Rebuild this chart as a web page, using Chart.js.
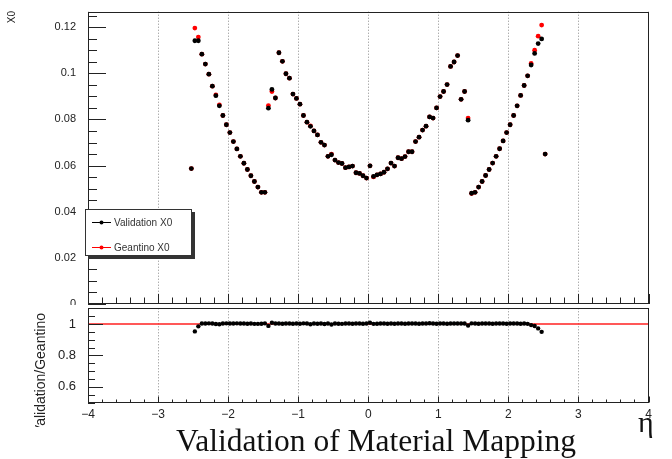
<!DOCTYPE html>
<html>
<head>
<meta charset="utf-8">
<script src="https://cdn.jsdelivr.net/npm/chart.js@4.4.1/dist/chart.umd.min.js"></script>
<style>
  body { margin: 0; background: #fff; width: 672px; height: 459px; position: relative; overflow: hidden; }
  canvas { position: absolute; left: 0; }
  #topPad { top: 0; }
  #ratioPad { top: 290px; }
  .caption { position: absolute; font-family: "Liberation Serif", "Times New Roman", serif; color: #111; line-height: 1; white-space: nowrap; }
  #title { left: 0; width: 752px; text-align: center; top: 425px; font-size: 31.5px; }
  #etaLabel { left: 638px; top: 407px; font-size: 30px; }
</style>
</head>
<body>
<canvas id="topPad" width="672" height="308"></canvas>
<canvas id="ratioPad" width="672" height="140"></canvas>
<div class="caption" id="etaLabel">η</div>
<div class="caption" id="title">Validation of Material Mapping</div>
<script>
// eta bin centres
const eta = [
  -2.525, -2.475, -2.425, -2.375, -2.325, -2.275, -2.225, -2.175, -2.125, -2.075,
  -2.025, -1.975, -1.925, -1.875, -1.825, -1.775, -1.725, -1.675, -1.625, -1.575,
  -1.525, -1.475, -1.425, -1.375, -1.325, -1.275, -1.225, -1.175, -1.125, -1.075,
  -1.025, -0.975, -0.925, -0.875, -0.825, -0.775, -0.725, -0.675, -0.625, -0.575,
  -0.525, -0.475, -0.425, -0.375, -0.325, -0.275, -0.225, -0.175, -0.125, -0.075,
  -0.025,
  0.025, 0.075, 0.125, 0.175, 0.225, 0.275, 0.325, 0.375, 0.425, 0.475,
  0.525, 0.575, 0.625, 0.675, 0.725, 0.775, 0.825, 0.875, 0.925, 0.975,
  1.025, 1.075, 1.125, 1.175, 1.225, 1.275, 1.325, 1.375, 1.425, 1.475,
  1.525, 1.575, 1.625, 1.675, 1.725, 1.775, 1.825, 1.875, 1.925, 1.975,
  2.025, 2.075, 2.125, 2.175, 2.225, 2.275, 2.325, 2.375, 2.425, 2.475,
  2.525
];

const validationX0 = [
  0.0587, 0.1141, 0.1141, 0.1083, 0.1040, 0.0996, 0.0944, 0.0903, 0.0859, 0.0817,
  0.0777, 0.0743, 0.0704, 0.0672, 0.0640, 0.0610, 0.0583, 0.0556, 0.0531, 0.0507,
  0.0484, 0.0484, 0.0849, 0.0930, 0.0893, 0.1089, 0.1052, 0.0998, 0.0979, 0.0910,
  0.0891, 0.0866, 0.0817, 0.0788, 0.0770, 0.0750, 0.0733, 0.0701, 0.0689, 0.0640,
  0.0647, 0.0624, 0.0613, 0.0609, 0.0591, 0.0594, 0.0598, 0.0569, 0.0566, 0.0556,
  0.0546,
  0.0599, 0.0553, 0.0560, 0.0564, 0.0571, 0.0586, 0.0611, 0.0598, 0.0634, 0.0630,
  0.0639, 0.0660, 0.0660, 0.0704, 0.0723, 0.0754, 0.0771, 0.0811, 0.0806, 0.0850,
  0.0899, 0.0921, 0.0951, 0.1030, 0.1049, 0.1077, 0.0887, 0.0921, 0.0797, 0.0480,
  0.0484, 0.0507, 0.0531, 0.0557, 0.0583, 0.0611, 0.0640, 0.0673, 0.0707, 0.0743,
  0.0777, 0.0817, 0.0859, 0.0904, 0.0947, 0.0989, 0.1036, 0.1086, 0.1129, 0.1149,
  0.0650
];

const geantinoX0 = [
  0.0587, 0.1196, 0.1157, 0.1083, 0.1040, 0.0996, 0.0944, 0.0906, 0.0863, 0.0817,
  0.0777, 0.0743, 0.0704, 0.0672, 0.0640, 0.0610, 0.0583, 0.0556, 0.0531, 0.0507,
  0.0484, 0.0484, 0.0860, 0.0921, 0.0893, 0.1089, 0.1052, 0.0998, 0.0979, 0.0910,
  0.0891, 0.0866, 0.0817, 0.0788, 0.0772, 0.0750, 0.0733, 0.0701, 0.0689, 0.0640,
  0.0650, 0.0624, 0.0613, 0.0609, 0.0591, 0.0594, 0.0598, 0.0569, 0.0566, 0.0556,
  0.0546,
  0.0599, 0.0551, 0.0560, 0.0564, 0.0571, 0.0586, 0.0611, 0.0598, 0.0634, 0.0630,
  0.0639, 0.0660, 0.0660, 0.0704, 0.0723, 0.0754, 0.0771, 0.0811, 0.0806, 0.0850,
  0.0899, 0.0921, 0.0951, 0.1030, 0.1049, 0.1077, 0.0887, 0.0921, 0.0806, 0.0479,
  0.0484, 0.0507, 0.0531, 0.0557, 0.0583, 0.0611, 0.0640, 0.0673, 0.0707, 0.0743,
  0.0777, 0.0817, 0.0859, 0.0904, 0.0947, 0.0989, 0.1043, 0.1100, 0.1161, 0.1209,
  0.0650
];

// Validation / Geantino
const ratio = [
  null, 0.953, 0.985, 1.003, 1.003, 1.004, 1.003, 1.000, 0.998, 1.003,
  1.004, 1.003, 1.003, 1.004, 1.003, 1.003, 1.002, 1.003, 1.001, 1.001,
  1.002, 1.004, 0.988, 1.008, 1.003, 1.003, 1.002, 1.003, 1.003, 1.002,
  1.003, 1.002, 1.004, 1.003, 0.998, 1.003, 1.002, 1.003, 1.000, 1.003,
  0.997, 1.003, 1.002, 1.001, 1.003, 1.003, 1.002, 1.003, 1.003, 1.002,
  1.003,
  1.008, 1.001, 1.002, 1.003, 1.003, 1.002, 1.003, 1.002, 1.003, 1.003,
  1.002, 1.003, 1.003, 1.003, 1.002, 1.003, 1.003, 1.005, 1.003, 1.002,
  1.003, 1.003, 1.002, 1.003, 1.003, 1.003, 1.003, 1.003, 0.990, 1.004,
  1.003, 1.002, 1.003, 1.003, 1.003, 1.002, 1.003, 1.003, 1.003, 1.002,
  1.003, 1.003, 1.003, 1.002, 1.003, 1.001, 0.993, 0.987, 0.972, 0.950,
  null
];

const etaTicks = [-4, -3, -2, -1, 0, 1, 2, 3, 4];
const x0Ticks = [0, 0.02, 0.04, 0.06, 0.08, 0.1, 0.12];
const x0TickLabels = ['0', '0.02', '0.04', '0.06', '0.08', '0.1', '0.12'];
const ratioTicks = [0.6, 0.8, 1];
const ratioTickLabels = ['0.6', '0.8', '1'];
const referenceLine = [1, 1];

const LABEL_FONT = 'Liberation Sans, Arial, sans-serif';

function points(ys) {
  return eta.map((x, i) => ({ x: x, y: ys[i] }));
}

// the lower pad is opaque and slightly overlaps the bottom of the upper one
const padFill = {
  id: 'padFill',
  beforeDraw(chart, args, opts) {
    if (opts.from === undefined) return;
    const ctx = chart.ctx;
    ctx.save();
    ctx.fillStyle = '#fff';
    ctx.fillRect(0, opts.from, chart.width, chart.height - opts.from);
    ctx.restore();
  }
};

// ROOT style frame with ticks pointing into the pad
const rootAxes = {
  id: 'rootAxes',
  afterDraw(chart, args, opts) {
    const { ctx, chartArea: a, scales } = chart;
    const xs = scales.x, ys = scales.y;
    ctx.save();
    ctx.strokeStyle = '#222';
    ctx.lineWidth = 1;
    ctx.beginPath();
    const iy0 = Math.ceil(ys.min / opts.yMinor - 1e-6);
    for (let i = iy0; i * opts.yMinor <= ys.max + 1e-9; i++) {
      const v = i * opts.yMinor;
      const major = Math.abs(v / opts.yMajor - Math.round(v / opts.yMajor)) < 1e-6;
      const py = Math.round(ys.getPixelForValue(v)) + 0.5;
      ctx.moveTo(a.left, py);
      ctx.lineTo(a.left + (major ? opts.yMajorLen : opts.yMinorLen), py);
    }
    const ix0 = Math.ceil(xs.min / 0.2 - 1e-6);
    for (let i = ix0; i * 0.2 <= xs.max + 1e-9; i++) {
      const major = i % 5 === 0;
      const px = Math.round(xs.getPixelForValue(i * 0.2)) + 0.5;
      ctx.moveTo(px, a.bottom);
      ctx.lineTo(px, a.bottom - (major ? opts.xMajorLen : opts.xMinorLen));
    }
    ctx.stroke();
    ctx.strokeRect(Math.round(a.left) + 0.5, Math.round(a.top) + 0.5,
      Math.round(a.width) - 1, Math.round(a.bottom) - Math.round(a.top) - 1);

    // vertical axis title, top end anchored at (x, y)
    if (opts.title) {
      const t = opts.title;
      ctx.save();
      ctx.beginPath();
      ctx.rect(0, t.clipTop, chart.width, t.clipBottom - t.clipTop);
      ctx.clip();
      ctx.translate(t.x, t.y);
      ctx.rotate(-Math.PI / 2);
      ctx.fillStyle = '#222';
      ctx.font = t.size + 'px ' + LABEL_FONT;
      ctx.textAlign = 'right';
      ctx.textBaseline = 'middle';
      ctx.fillText(t.text, 0, 0);
      ctx.restore();
    }
    ctx.restore();
  }
};

// legend box with a drop shadow, drawn inside the upper pad
const rootLegend = {
  id: 'rootLegend',
  afterDraw(chart, args, opts) {
    if (!opts.box) return;
    const ctx = chart.ctx;
    const b = opts.box;
    ctx.save();
    ctx.fillStyle = '#333';
    ctx.fillRect(b.x + 3, b.y + 3, b.w, b.h);
    ctx.fillStyle = '#fff';
    ctx.fillRect(b.x, b.y, b.w, b.h);
    ctx.strokeStyle = '#333';
    ctx.lineWidth = 1;
    ctx.strokeRect(b.x + 0.5, b.y + 0.5, b.w - 1, b.h - 1);
    ctx.font = '10px ' + LABEL_FONT;
    ctx.textBaseline = 'middle';
    chart.data.datasets.forEach((ds, i) => {
      const ly = b.y + opts.rowY[i];
      ctx.strokeStyle = ds.borderColor;
      ctx.beginPath();
      ctx.moveTo(b.x + 7, ly + 0.5);
      ctx.lineTo(b.x + 26, ly + 0.5);
      ctx.stroke();
      ctx.fillStyle = ds.backgroundColor;
      ctx.beginPath();
      ctx.arc(b.x + 16.5, ly + 0.5, 2, 0, Math.PI * 2);
      ctx.fill();
      ctx.fillStyle = '#333';
      ctx.fillText(ds.label, b.x + 29, ly + 1);
    });
    ctx.restore();
  }
};

function fixedTicks(values) {
  return s => { s.ticks = values.map(v => ({ value: v })); };
}

// keep the chart area exactly where the layout padding puts it
function yFit(s) {
  s.width = 88;
  s.paddingTop = 0;
  s.paddingBottom = 0;
}
function xFit(height) {
  return s => {
    s.height = height;
    s.paddingLeft = 0;
    s.paddingRight = 0;
  };
}

const topChart = new Chart(document.getElementById('topPad'), {
  type: 'scatter',
  data: {
    datasets: [
      { label: 'Validation X0', data: points(validationX0), backgroundColor: '#000', borderColor: '#000', pointRadius: 2.4, pointBorderWidth: 0 },
      { label: 'Geantino X0', data: points(geantinoX0), backgroundColor: '#ff0000', borderColor: '#ff0000', pointRadius: 2.4, pointBorderWidth: 0 }
    ]
  },
  options: {
    responsive: false,
    animation: false,
    layout: { padding: { left: 0, right: 23.5, top: 11.7, bottom: 0.7 } },
    plugins: {
      legend: { display: false },
      tooltip: { enabled: false },
      rootAxes: {
        yMinor: 0.005, yMajor: 0.02, yMajorLen: 18, yMinorLen: 9, xMajorLen: 10, xMinorLen: 6.5,
        title: { text: 'X0', x: 12, y: 11, size: 10, clipTop: 0, clipBottom: 308 }
      },
      rootLegend: { box: { x: 85, y: 209, w: 107, h: 47 }, rowY: [13, 38] }
    },
    scales: {
      x: {
        type: 'linear', min: -4, max: 4,
        afterBuildTicks: fixedTicks(etaTicks),
        ticks: { display: false },
        grid: { color: '#8a8a8a', lineWidth: 1, drawTicks: false },
        border: { display: false, dash: [1, 2] },
        afterFit: xFit(0)
      },
      y: {
        min: 0, max: 0.1267,
        afterBuildTicks: fixedTicks(x0Ticks),
        ticks: {
          color: '#222', padding: 4,
          font: { family: LABEL_FONT, size: 11 },
          callback: (v, i) => x0TickLabels[i]
        },
        grid: { display: false },
        border: { display: false },
        afterFit: yFit
      }
    }
  },
  plugins: [rootAxes, rootLegend]
});

const ratioChart = new Chart(document.getElementById('ratioPad'), {
  type: 'scatter',
  data: {
    datasets: [
      { label: 'Validation/Geantino', data: points(ratio), backgroundColor: '#000', borderColor: '#000', pointRadius: 2.2, pointBorderWidth: 0 },
      { label: 'unity', data: [{ x: -4, y: referenceLine[0] }, { x: 4, y: referenceLine[1] }], showLine: true, borderColor: '#ff2020', borderWidth: 1.3, pointRadius: 0 }
    ]
  },
  options: {
    responsive: false,
    animation: false,
    layout: { padding: { left: 0, right: 23.5, top: 18.3, bottom: 7.5 } },
    plugins: {
      legend: { display: false },
      tooltip: { enabled: false },
      padFill: { from: 15 },
      rootAxes: {
        yMinor: 0.05, yMajor: 0.2, yMajorLen: 15, yMinorLen: 7, xMajorLen: 6, xMinorLen: 3,
        title: { text: 'Validation/Geantino', x: 41, y: 23, size: 14, clipTop: 0, clipBottom: 137 }
      }
    },
    scales: {
      x: {
        type: 'linear', min: -4, max: 4,
        afterBuildTicks: fixedTicks(etaTicks),
        ticks: {
          color: '#222', padding: 5,
          font: { family: LABEL_FONT, size: 12 },
          maxRotation: 0,
          callback: v => (v < 0 ? '\u2212' + Math.abs(v) : String(v))
        },
        grid: { color: '#8a8a8a', lineWidth: 1, drawTicks: false },
        border: { display: false, dash: [1, 2] },
        afterFit: xFit(20)
      },
      y: {
        min: 0.5, max: 1.1,
        afterBuildTicks: fixedTicks(ratioTicks),
        ticks: {
          color: '#222', padding: 4,
          font: { family: LABEL_FONT, size: 13 },
          callback: (v, i) => ratioTickLabels[i]
        },
        grid: { display: false },
        border: { display: false },
        afterFit: yFit
      }
    }
  },
  plugins: [padFill, rootAxes]
});
</script>
</body>
</html>
